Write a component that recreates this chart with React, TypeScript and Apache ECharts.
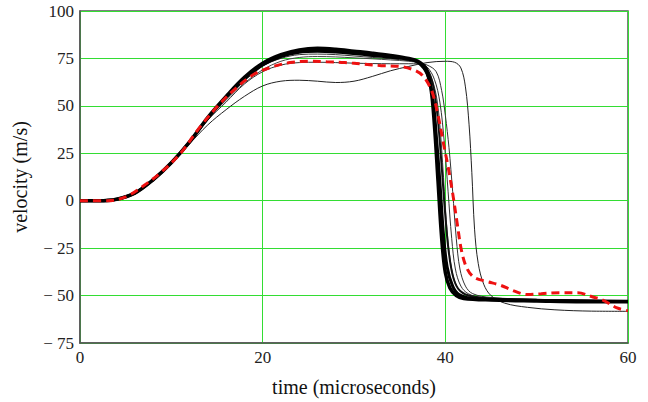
import React, { useEffect, useRef } from "react";
import * as echarts from "echarts";

const xTicks = [0, 20, 40, 60];
const yTicks = [-75, -50, -25, 0, 25, 50, 75, 100];

const thickMain: [number, number][] = [[0,0],[2,0],[4,0.8],[6,4],[8,11],[10,20],[12,31],[14,44],[16,55],[18,65],[20,72.5],[22,77],[24,79.5],[26,80.3],[28,79.8],[30,78.8],[32,77.8],[34,76.6],[36,75],[37,73.5],[37.8,70],[38.4,60],[38.8,40],[39.2,10],[39.6,-20],[40,-38],[40.5,-46],[41.2,-50],[42,-51.5],[45,-52.3],[50,-52.8],[55,-53.2],[60,-53.2]];
const thickSecond: [number, number][] = [[0,0],[2,0],[4,0.8],[6,4],[8,11],[10,20],[12,31],[14,43.5],[16,54.5],[18,64],[20,71.5],[22,76],[24,78.3],[26,78.8],[28,78.4],[30,77.6],[32,76.6],[34,75.6],[36,74.5],[37,73],[38,67],[38.6,55],[39,35],[39.4,10],[39.8,-18],[40.2,-35],[40.8,-45],[41.5,-49.5],[43,-51.5],[50,-52.5],[60,-53]];
const curveA: [number, number][] = [[0,0],[2,0],[4,0.8],[6,4],[8,11],[10,20],[12,30.5],[14,43],[16,53],[18,62],[20,69],[22,73.5],[24,75.5],[26,76],[28,75.8],[30,75.3],[32,74.8],[34,74.2],[36,73.5],[37,72.5],[38,69],[38.8,60],[39.3,45],[39.7,20],[40.1,-10],[40.5,-30],[41,-42],[41.7,-48],[43,-51],[46,-52],[60,-53]];
const curveB: [number, number][] = [[0,0],[2,0],[4,0.8],[6,4],[8,11],[10,20],[12,31],[14,43.5],[16,54],[18,63.5],[20,71],[22,75],[24,77],[26,77.3],[28,77],[30,76.3],[32,75.5],[34,74.8],[36,73.8],[37,72.8],[38,70.5],[38.8,64],[39.4,52],[39.9,30],[40.3,5],[40.7,-20],[41.1,-36],[41.7,-45],[42.5,-49],[44,-51],[48,-52],[60,-53]];
const curveC: [number, number][] = [[0,0],[2,0],[4,0.8],[6,4],[8,11],[10,20],[12,30.5],[14,42.5],[16,52],[18,61.5],[20,68],[22,71.5],[24,72.8],[26,73],[28,72.8],[30,72.5],[32,72.3],[34,72.2],[36,72.2],[37,72.2],[38,71.5],[39,68],[39.6,58],[40,45],[40.4,28],[40.8,5],[41.2,-20],[41.6,-36],[42.2,-45],[43,-49],[45,-51],[50,-52],[60,-52.8]];
const curveD: [number, number][] = [[0,0],[2,0],[4,0.8],[6,4],[8,11],[10,20],[12,31],[14,44],[16,55],[18,64.5],[20,72],[22,76.5],[24,78.8],[26,79.3],[28,78.9],[30,78],[32,77],[34,76],[36,74.6],[37,73.2],[38,69.5],[38.7,60],[39.2,42],[39.6,18],[40,-8],[40.4,-28],[40.9,-41],[41.6,-47.5],[43,-50.5],[47,-52],[60,-53]];
const curveE: [number, number][] = [[0,0],[2,0],[4,0.8],[6,4],[8,11],[10,20],[12,30],[14,40],[16,48],[18,55],[20,60.5],[22,63],[24,63.5],[26,63],[28,62.3],[30,63],[32,65.5],[34,68.5],[36,70.8],[38,72.8],[40,73.5],[41,73],[41.7,70],[42.2,60],[42.6,40],[42.9,15],[43.2,-15],[43.6,-33],[44.2,-44],[45,-50],[46.5,-54],[49,-56.2],[52,-57.5],[56,-58.2],[60,-58.3]];
const redDashed: [number, number][] = [[0,0],[3,0],[5,2],[7,8],[9,15.5],[11,25],[13,38],[15,49.5],[17,59],[19,66.5],[21,70.5],[23,72.8],[25,73.5],[27,73.2],[29,72.8],[31,72],[33,71.2],[35,70.8],[36.5,69],[37.5,66],[38.5,58],[39.2,45],[39.8,30],[40.3,18],[40.8,4],[41.3,-12],[41.8,-27],[42.4,-36],[43.2,-40.5],[44.5,-42.5],[46,-44.5],[47.5,-47.5],[49,-49.5],[50.5,-49],[52.5,-48.5],[54.5,-48.5],[56,-50.5],[57.3,-52.5],[58.8,-56.5],[60,-58]];

const blackSeries: { data: [number, number][]; width: number; color: string }[] = [
  { data: curveE, width: 1, color: "#222" },
  { data: curveC, width: 1, color: "#333" },
  { data: curveB, width: 1, color: "#333" },
  { data: curveA, width: 1, color: "#444" },
  { data: curveD, width: 2, color: "#111" },
  { data: thickSecond, width: 3, color: "#000" },
  { data: thickMain, width: 3.5, color: "#000" },
];

const FONT = "'Liberation Serif', 'Times New Roman', Times, serif";

export default function App() {
  const ref = useRef<HTMLDivElement>(null);
  useEffect(() => {
    if (!ref.current) return;
    const chart = echarts.init(ref.current, undefined, { renderer: "svg" });
    const series: any[] = blackSeries.map((s) => ({
      type: "line",
      data: s.data,
      smooth: 0.35,
      showSymbol: false,
      symbol: "none",
      lineStyle: { color: s.color, width: s.width },
      silent: true,
    }));
    series.push({
      type: "line",
      data: redDashed,
      smooth: 0.35,
      symbol: "none",
      lineStyle: { color: "#ee1111", width: 3, type: [8, 5] },
      silent: true,
    });
    chart.setOption({
      animation: false,
      backgroundColor: "#ffffff",
      textStyle: { fontFamily: FONT },
      grid: {
        left: 80,
        right: 20,
        top: 11,
        bottom: 55,
        show: true,
        borderColor: "#555",
        borderWidth: 1.5,
        containLabel: false,
      },
      xAxis: {
        type: "value",
        min: 0,
        max: 60,
        interval: 20,
        name: "time (microseconds)",
        nameLocation: "middle",
        nameGap: 34,
        nameTextStyle: { fontFamily: FONT, fontSize: 20, color: "#111" },
        axisLine: { show: true, onZero: false, lineStyle: { color: "#555", width: 1.5 } },
        axisTick: { show: false },
        axisLabel: {
          fontFamily: FONT,
          fontSize: 17,
          color: "#222",
          margin: 6,
          formatter: (v: number) => (xTicks.includes(v) ? String(v) : ""),
        },
        splitLine: { show: true, lineStyle: { color: "#33dd33", width: 1 } },
      },
      yAxis: {
        type: "value",
        min: -75,
        max: 100,
        interval: 25,
        name: "velocity (m/s)",
        nameLocation: "middle",
        nameGap: 50,
        nameTextStyle: { fontFamily: FONT, fontSize: 20, color: "#111" },
        axisLine: { show: true, onZero: false, lineStyle: { color: "#555", width: 1.5 } },
        axisTick: { show: false },
        axisLabel: {
          fontFamily: FONT,
          fontSize: 17,
          color: "#222",
          margin: 6,
          formatter: (v: number) =>
            yTicks.includes(v) ? (v < 0 ? "\u2212 " + Math.abs(v) : String(v)) : "",
        },
        splitLine: { show: true, lineStyle: { color: "#33dd33", width: 1 } },
      },
      series,
    });
    return () => chart.dispose();
  }, []);
  return (
    <div
      ref={ref}
      style={{ position: "fixed", left: 0, top: 0, width: 648, height: 402 }}
    />
  );
}
